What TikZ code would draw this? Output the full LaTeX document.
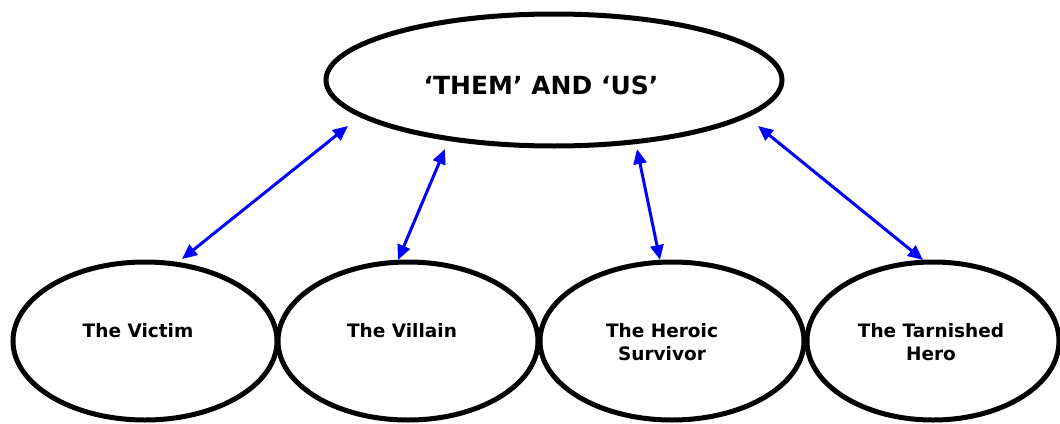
\documentclass[tikz,border=0pt]{standalone}
\usepackage{fontspec}
\setmainfont{DejaVu Sans}
\usetikzlibrary{shapes.geometric,arrows.meta}

\tikzset{
  oval/.style={draw=black, line width=5pt, ellipse, inner sep=0pt, fill=white},
  toplabel/.style={inner sep=0pt, anchor=base, font=\fontsize{25}{30}\selectfont\bfseries},
  rolelabel/.style={inner sep=0pt, anchor=north, align=center,
    font=\fontsize{18.5}{23.5}\selectfont\bfseries},
  link/.style={draw=blue, line width=3pt,
    {Triangle[length=15pt,width=13pt]}-{Triangle[length=15pt,width=13pt]}}
}

\begin{document}
\begin{tikzpicture}[x=1pt, y=-1pt]
  \useasboundingbox (0,0) rectangle (1060,423);

  % central theme
  \node[oval, minimum width=456pt, minimum height=132pt] (theme) at (554,80) {};
  \node[toplabel] (themetxt) at (541,94) {‘THEM’ AND ‘US’};

  % the four roles
  \node[oval, minimum width=264pt, minimum height=158pt] (victim)    at (145,341) {};
  \node[oval, minimum width=260pt, minimum height=158pt] (villain)   at (408,341) {};
  \node[oval, minimum width=264pt, minimum height=158pt] (survivor)  at (672,341) {};
  \node[oval, minimum width=252pt, minimum height=158pt] (tarnished) at (933,341) {};

  \node[rolelabel] (victimtxt)    at (138,323) {The Victim};
  \node[rolelabel] (villaintxt)   at (402,323) {The Villain};
  \node[rolelabel] (survivortxt)  at (662,323) {The Heroic\\Survivor};
  \node[rolelabel] (tarnishedtxt) at (931,323) {The Tarnished\\Hero};

  % arrow end points between the theme and each role
  \coordinate (v1) at (182,259);  \coordinate (t1) at (348,126);
  \coordinate (v2) at (398,260);  \coordinate (t2) at (445,149);
  \coordinate (v3) at (660,260);  \coordinate (t3) at (637,149);
  \coordinate (v4) at (923,260);  \coordinate (t4) at (758,126);

  \draw[link] (v1) -- (t1);
  \draw[link] (v2) -- (t2);
  \draw[link] (v3) -- (t3);
  \draw[link] (v4) -- (t4);
\end{tikzpicture}
\end{document}
